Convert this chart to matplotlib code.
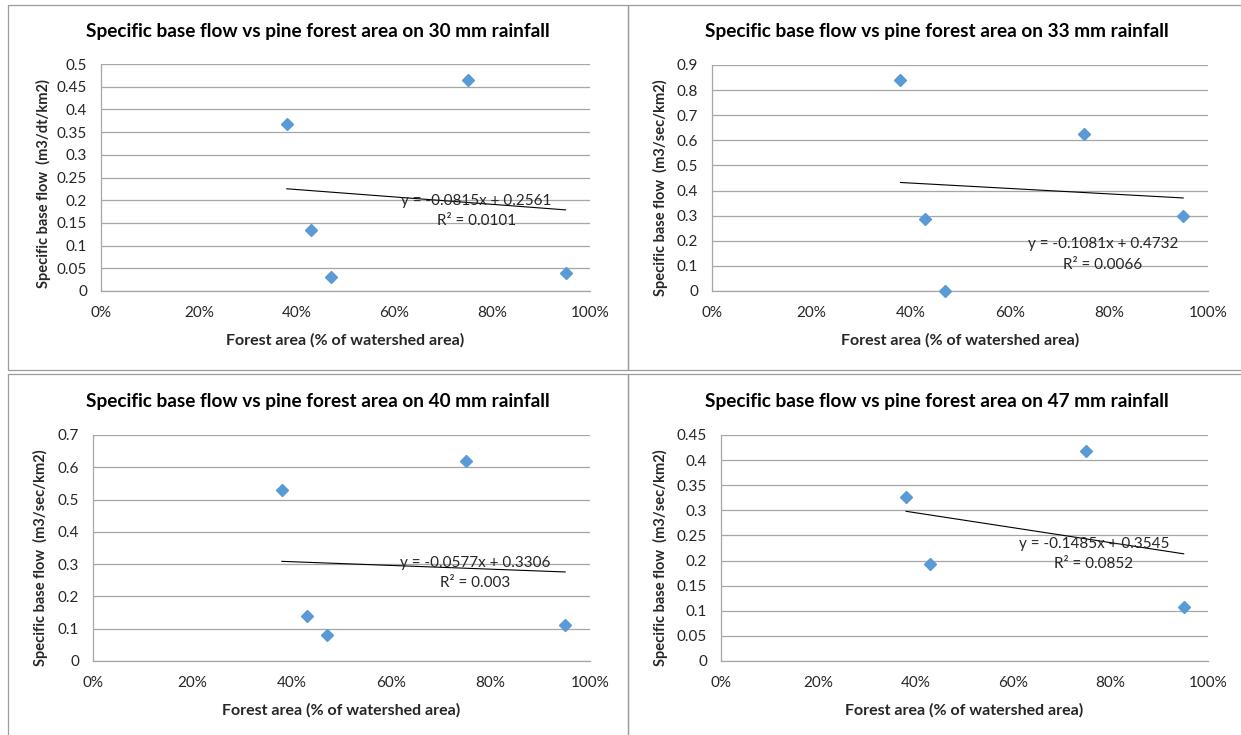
import matplotlib
matplotlib.use("Agg")
import matplotlib.pyplot as plt
import numpy as np
from matplotlib.patches import Rectangle

plt.rcParams['font.family'] = ['Lato', 'DejaVu Sans']

# ---------------- data ----------------
forest_area = [0.38, 0.43, 0.47, 0.75, 0.95]

flow_30 = [0.367, 0.135, 0.031, 0.465, 0.040]
flow_33 = [0.840, 0.287, 0.001, 0.626, 0.300]
flow_40 = [0.530, 0.140, 0.082, 0.620, 0.110]
flow_47 = [0.326, 0.193, None, 0.418, 0.108]

rainfall = ["30", "33", "40", "47"]
y_units = ["(m3/dt/km2)", "(m3/sec/km2)", "(m3/sec/km2)", "(m3/sec/km2)"]
slopes = [-0.0815, -0.1081, -0.0577, -0.1485]
intercepts = [0.2561, 0.4732, 0.3306, 0.3545]
r2_text = ["0.0101", "0.0066", "0.003", "0.0852"]
y_max = [0.5, 0.9, 0.7, 0.45]
y_step = [0.05, 0.1, 0.1, 0.05]
x_ticks = [0, 0.2, 0.4, 0.6, 0.8, 1.0]
x_tick_labels = ["0%", "20%", "40%", "60%", "80%", "100%"]

series = [flow_30, flow_33, flow_40, flow_47]

# ---------------- layout (pixels) ----------------
W, H = 1241, 735
fig = plt.figure(figsize=(W / 100, H / 100), dpi=100)

# plot area boxes: left, right, top, bottom
plot_boxes = [(101, 590, 64, 291), (712, 1208, 65, 291),
              (93, 590, 435, 661), (721, 1208, 435, 661)]
panel_boxes = [(8, 628, 5, 370), (628, 1250, 5, 370),
               (8, 628, 374, 745), (628, 1250, 374, 745)]
title_pos = [(318, 32), (937, 32), (318, 402), (937, 402)]
xlabel_y = [340, 340, 710, 710]
ylabel_pos = [(-0.1186, 0.475), (-0.103, 0.458), (-0.105, 0.458), (-0.124, 0.458)]
eq_pos = [(0.767, 0.198, 0.154), (0.788, 0.187, 0.1035),
          (0.768, 0.3045, 0.2425), (0.766, 0.2324, 0.1925)]

grid_color = '#a6a6a6'
text_color = '#262626'
marker_color = '#5b9bd5'

for (l, r, t, b) in panel_boxes:
    rect = Rectangle((l / W, 1 - b / H), (r - l) / W, (b - t) / H,
                     transform=fig.transFigure, fill=False,
                     edgecolor='#9c9c9c', linewidth=0.9)
    fig.add_artist(rect)

for i in range(4):
    l, r, t, b = plot_boxes[i]
    ax = fig.add_axes([l / W, 1 - b / H, (r - l) / W, (b - t) / H])
    xs = np.array(forest_area, dtype=float)
    ys = np.array([np.nan if v is None else v for v in series[i]], dtype=float)
    ax.plot(xs, ys, linestyle='none', marker='D', markersize=6.2,
            color=marker_color, markeredgecolor=marker_color, zorder=4,
            clip_on=False)
    ok = ~np.isnan(ys)
    tx = np.array([xs[ok].min(), xs[ok].max()])
    ax.plot(tx, slopes[i] * tx + intercepts[i], color='black', linewidth=0.8, zorder=3)

    ax.set_xlim(0, 1)
    ax.set_ylim(0, y_max[i])
    yt = np.round(np.arange(0, y_max[i] + 1e-9, y_step[i]), 4)
    ax.set_yticks(yt)
    ax.set_yticklabels([f"{v:g}" for v in yt])
    ax.set_xticks(x_ticks)
    ax.set_xticklabels(x_tick_labels)
    ax.tick_params(axis='both', length=0, labelsize=11, colors=text_color)
    ax.tick_params(axis='y', pad=10)
    ax.tick_params(axis='x', pad=11)
    ax.grid(axis='y', color=grid_color, linewidth=0.9)
    ax.set_axisbelow(True)
    for s in ['top', 'right']:
        ax.spines[s].set_visible(False)
    for s in ['left', 'bottom']:
        ax.spines[s].set_color(grid_color)
        ax.spines[s].set_linewidth(0.9)

    ax.set_xlabel("Forest area (% of watershed area)", fontsize=11.5,
                  fontweight='bold', color=text_color, va='center')
    ax.xaxis.set_label_coords(0.5, -(xlabel_y[i] - b) / (b - t))
    ax.set_ylabel("Specific base flow  " + y_units[i], fontsize=10.5,
                  fontweight='bold', color=text_color, va='center')
    ax.yaxis.set_label_coords(*ylabel_pos[i])

    ex, ey1, ey2 = eq_pos[i]
    ax.text(ex, ey1, f"y = {slopes[i]:.4f}x + {intercepts[i]:.4f}", ha='center',
            va='center', fontsize=11, color=text_color, zorder=5)
    ax.text(ex, ey2, "R² = " + r2_text[i], ha='center', va='center',
            fontsize=11, color=text_color, zorder=5)

    tpx, tpy = title_pos[i]
    fig.text(tpx / W, 1 - tpy / H,
             f"Specific base flow vs pine forest area on {rainfall[i]} mm rainfall",
             ha='center', va='center', fontsize=13.7, fontweight='bold',
             color='black')

fig.savefig("out.png", dpi=100)
